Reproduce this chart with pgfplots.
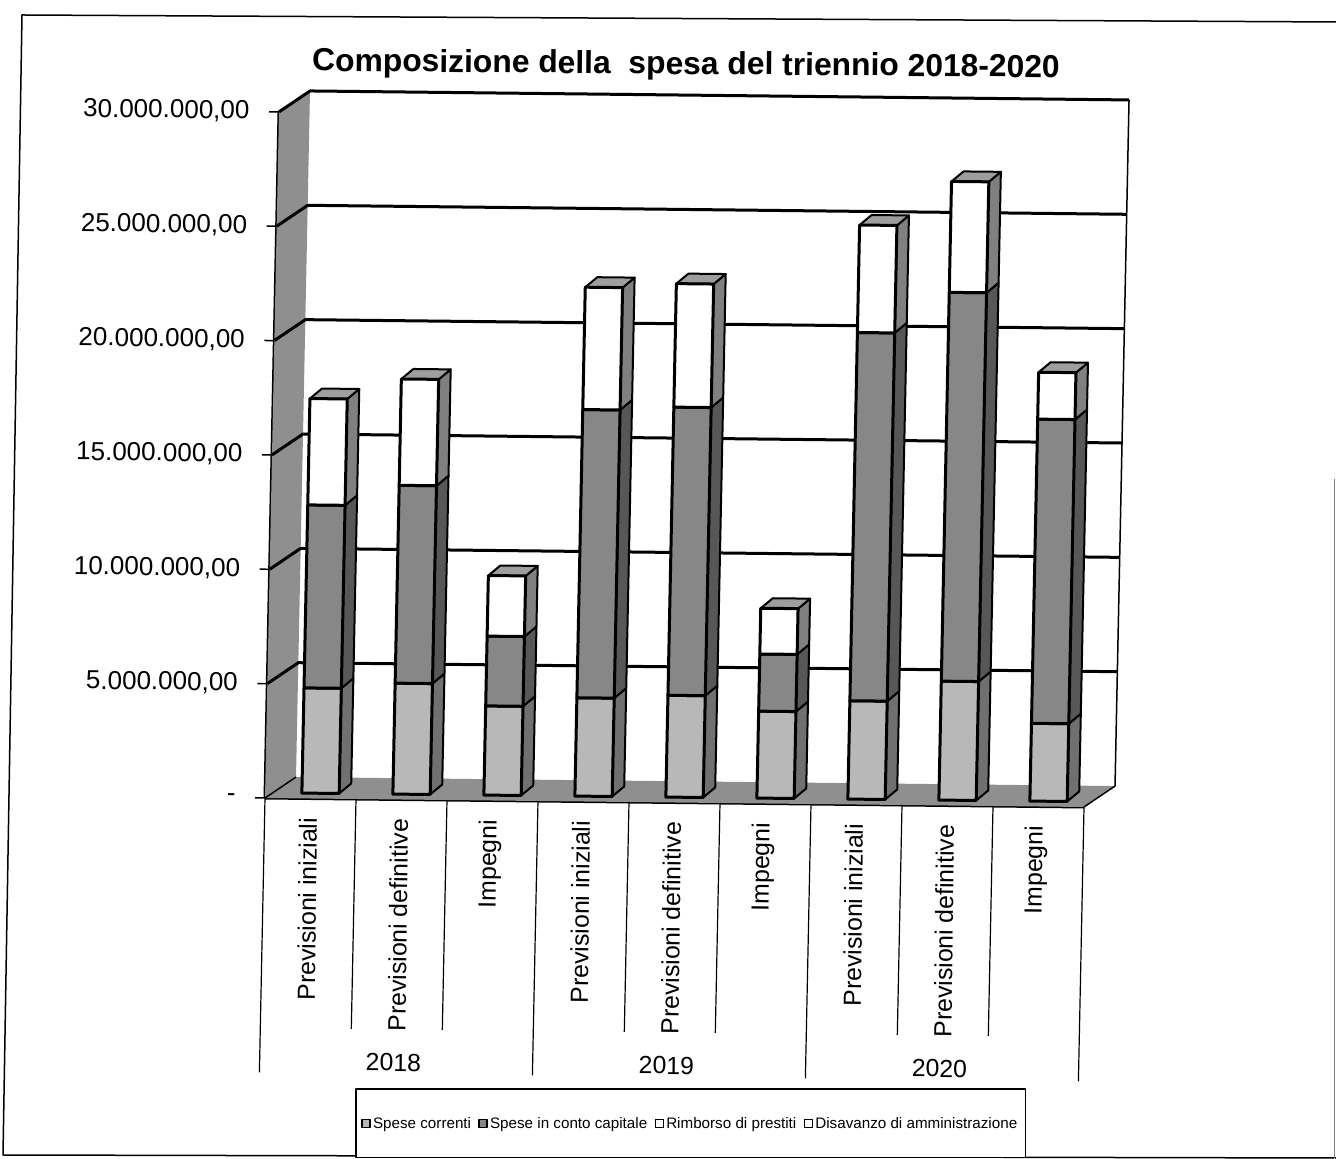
\documentclass[border=0pt]{standalone}
\usepackage{fontspec}
\setmainfont{Liberation Sans}
\usepackage{pgfplots}
\usepackage{pgfplotstable}
\pgfplotsset{compat=1.18}

% segments in millions of euro
\pgfplotstableread{
a b c
4.60 8.00 4.65
4.85 8.65 4.65
3.90 3.05 2.65
4.30 12.60 5.35
4.45 12.60 5.40
3.80 2.50 2.00
4.30 16.10 4.70
5.20 17.00 4.85
3.40 13.30 2.05
}\bars

\definecolor{wallc}{gray}{0.56}
\definecolor{segA}{gray}{0.72}
\definecolor{segAs}{gray}{0.44}
\definecolor{segB}{gray}{0.53}
\definecolor{segBs}{gray}{0.34}
\definecolor{segC}{gray}{1}
\definecolor{segCs}{gray}{0.5}
\definecolor{topc}{gray}{0.62}

\begin{document}
\begin{tikzpicture}[x=1pt,y=1pt,line join=round]
\path[use as bounding box] (0,0) rectangle (1336,1159);
\draw[line width=1.5pt] (1336,1137) -- (22,1144) -- (3,4) -- (1336,1);
\draw[line width=1pt, black!50] (1334,680) -- (1334,0);
\node[rotate=-0.5, font=\fontsize{31.8}{36}\selectfont\bfseries] at (686,1093) {Composizione della\ \ spesa del triennio 2018-2020};
\begin{axis}[
  at={(265pt,361pt)}, anchor=origin,
  x={(91pt,-1pt)}, y={(0.467pt,22.87pt)},
  xmin=0, xmax=9, ymin=0, ymax=30,
  clip=false, axis lines=left,
  axis line style={-, line width=3pt},
  tick style={black, line width=1.5pt},
  tick align=outside, major tick length=10pt,
  ytick={0,5,...,30},
  yticklabels={-\hspace{10pt},{5.000.000,00},{10.000.000,00},{15.000.000,00},{20.000.000,00},{25.000.000,00},{30.000.000,00}},
  yticklabel style={rotate=-0.7, anchor=east, xshift=-16pt, font=\fontsize{26}{30}\selectfont},
  xtick={0.5,1.5,...,8.5},
  xticklabels={Previsioni iniziali,Previsioni definitive,Impegni,Previsioni iniziali,Previsioni definitive,Impegni,Previsioni iniziali,Previsioni definitive,Impegni},
  xticklabel style={rotate=89.3, anchor=east, yshift=2pt, xshift=-6pt, font=\fontsize{24.8}{28}\selectfont},
  x tick style={draw=none},
  legend columns=4,
  legend style={at={(axis description cs:0.511,-0.455)}, anchor=center, draw=black, line width=1.5pt,
    inner xsep=6pt, inner ysep=26pt, font=\fontsize{15.2}{17}\selectfont, row sep=0pt,
    /tikz/every odd column/.append style={column sep=1pt},
    /tikz/every even column/.append style={column sep=6pt}},
  legend cell align=left,
]
% walls and floor
\addplot[fill=wallc, draw=none, forget plot] coordinates {(0,0) (0,30) (0.336,30.93) (0.336,0.93)} -- cycle;
\addplot[fill=wallc, draw=none, forget plot] coordinates {(0,0) (9,0) (9.336,0.93) (0.336,0.93)} -- cycle;
\addplot[black, line width=1.5pt, forget plot] coordinates {(9,0) (9.336,0.93) (9.336,30.93)};
\addplot[black, line width=1.5pt, forget plot] coordinates {(0,0) (0.336,0.93)};
% gridlines
\pgfplotsforeachungrouped \g in {5,10,...,30}{
  \pgfmathsetmacro\gb{\g+0.93}
  \addplot[black, line width=3pt, forget plot] coordinates {(0,\g) (0.336,\gb) (9.336,\gb)};
}
% category dividers
\pgfplotsforeachungrouped \k in {1,2,4,5,7,8}{
  \addplot[black, line width=1.2pt, forget plot] coordinates {(\k,0) (\k,-10.05)};
}
\pgfplotsforeachungrouped \k in {0,3,6,9}{
  \addplot[black, line width=1.2pt, forget plot] coordinates {(\k,0) (\k,-12)};
}
% bars
\pgfplotsforeachungrouped \i in {0,...,8}{
  \pgfplotstablegetelem{\i}{a}\of\bars \let\va\pgfplotsretval
  \pgfplotstablegetelem{\i}{b}\of\bars \let\vb\pgfplotsretval
  \pgfplotstablegetelem{\i}{c}\of\bars \let\vc\pgfplotsretval
  \pgfmathsetmacro\xl{\i+0.404}
  \pgfmathsetmacro\xr{\xl+0.41}
  \pgfmathsetmacro\xb{\xr+0.13}
  \pgfmathsetmacro\xc{\xl+0.13}
  \pgfmathsetmacro\ya{0.233+\va}
  \pgfmathsetmacro\yb{\ya+\vb}
  \pgfmathsetmacro\yc{\yb+\vc}
  \pgfmathsetmacro\yd{\yc+0.443}
  \pgfmathsetmacro\ye{0.233+0.443}
  \pgfmathsetmacro\yf{\ya+0.443}
  \pgfmathsetmacro\yg{\yb+0.443}
  \addplot[fill=segAs, draw=black, line width=2pt, forget plot] coordinates {(\xr,0.233) (\xb,\ye) (\xb,\yf) (\xr,\ya)} -- cycle;
  \addplot[fill=segBs, draw=black, line width=2pt, forget plot] coordinates {(\xr,\ya) (\xb,\yf) (\xb,\yg) (\xr,\yb)} -- cycle;
  \addplot[fill=segCs, draw=black, line width=2pt, forget plot] coordinates {(\xr,\yb) (\xb,\yg) (\xb,\yd) (\xr,\yc)} -- cycle;
  \addplot[fill=topc, draw=black, line width=2pt, forget plot] coordinates {(\xl,\yc) (\xr,\yc) (\xb,\yd) (\xc,\yd)} -- cycle;
  \addplot[fill=segA, draw=black, line width=3pt, forget plot] coordinates {(\xl,0.233) (\xr,0.233) (\xr,\ya) (\xl,\ya)} -- cycle;
  \addplot[fill=segB, draw=black, line width=3pt, forget plot] coordinates {(\xl,\ya) (\xr,\ya) (\xr,\yb) (\xl,\yb)} -- cycle;
  \addplot[fill=segC, draw=black, line width=3pt, forget plot] coordinates {(\xl,\yb) (\xr,\yb) (\xr,\yc) (\xl,\yc)} -- cycle;
}
% years
\node[rotate=-0.5, font=\fontsize{24.8}{28}\selectfont] at (axis cs:1.47,-11.5) {2018};
\node[rotate=-0.5, font=\fontsize{24.8}{28}\selectfont] at (axis cs:4.47,-11.5) {2019};
\node[rotate=-0.5, font=\fontsize{24.8}{28}\selectfont] at (axis cs:7.47,-11.5) {2020};
% legend
\addlegendimage{only marks, mark=square*, mark size=4pt, mark options={fill=segA, draw=black, line width=1.5pt}}
\addlegendentry{Spese correnti}
\addlegendimage{only marks, mark=square*, mark size=4pt, mark options={fill=segB, draw=black, line width=1.5pt}}
\addlegendentry{Spese in conto capitale}
\addlegendimage{only marks, mark=square*, mark size=4pt, mark options={fill=segC, draw=black, line width=1.5pt}}
\addlegendentry{Rimborso di prestiti}
\addlegendimage{only marks, mark=square*, mark size=4pt, mark options={fill=white, draw=black, line width=1.5pt}}
\addlegendentry{Disavanzo di amministrazione}
\end{axis}
\end{tikzpicture}
\end{document}
